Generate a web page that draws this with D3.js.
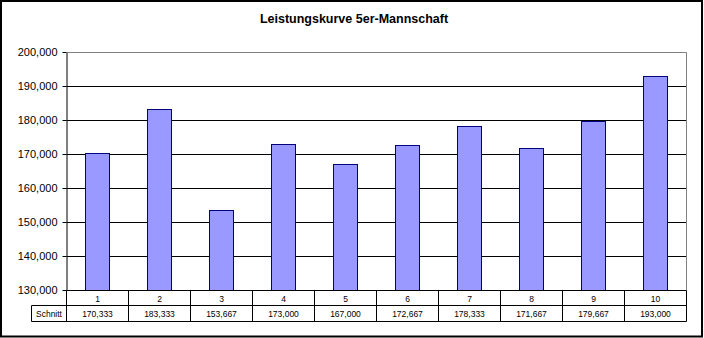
<!DOCTYPE html>
<html><head><meta charset="utf-8">
<script src="https://cdn.jsdelivr.net/npm/d3@7"></script>
<style>body{margin:0;background:#fff}svg{display:block}</style>
</head><body>
<svg id="c" width="704" height="338"></svg>
<script>
const title = "Leistungskurve 5er-Mannschaft";
const categories = ["1","2","3","4","5","6","7","8","9","10"];
const seriesName = "Schnitt";
const values = [170333,183333,153667,173000,167000,172667,178333,171667,179667,193000];
const tableLabels = ["170,333","183,333","153,667","173,000","167,000","172,667","178,333","171,667","179,667","193,000"];
const yTicks = [130000,140000,150000,160000,170000,180000,190000,200000];

const svg = d3.select("#c");
const L = 66.5, R = 686.5, T = 52.5, B = 290.5;
const row1 = 305.5, row2 = 321.5, labelLeft = 31.5;
const font = "Arial, 'Liberation Sans', sans-serif";

svg.append("rect").attr("x",1).attr("y",1).attr("width",701).attr("height",335.5)
  .attr("fill","#fff").attr("stroke","#000").attr("stroke-width",2);

svg.append("text").attr("x",354).attr("y",23).attr("text-anchor","middle")
  .attr("font-family",font).attr("font-weight","bold").attr("font-size","12.5px")
  .text(title);

const x = d3.scaleBand().domain(categories).range([L,R]).padding(0);
const y = d3.scaleLinear().domain([130000,200000]).range([B,T]);
const fmt = v => d3.format(",")(v);
const py = v => Math.floor(y(v)) + 0.5;

// gridlines
svg.append("g").selectAll("line").data(yTicks.filter(t=>t>130000)).join("line")
  .attr("x1",L).attr("x2",R).attr("y1",d=>py(d)).attr("y2",d=>py(d))
  .attr("stroke",d=>d===200000?"#808080":"#000").attr("stroke-width",1);

// right border of plot area
svg.append("line").attr("x1",R).attr("x2",R).attr("y1",T).attr("y2",B).attr("stroke","#808080");

// bars
const bw = 24;
svg.append("g").selectAll("rect").data(values).join("rect")
  .attr("x",(d,i)=>Math.round(x(categories[i]) + x.bandwidth()/2 - bw/2) - 0.5)
  .attr("width",bw)
  .attr("y",d=>py(d))
  .attr("height",d=>B - py(d))
  .attr("fill","#9999FF").attr("stroke","#000080").attr("stroke-width",1);

// y axis
const yAxis = d3.axisLeft(y).tickValues(yTicks).tickSize(4).tickSizeOuter(0)
  .tickFormat(d=>fmt(d));
const ga = svg.append("g").attr("transform",`translate(${L},0)`).call(yAxis);
ga.select(".domain").attr("stroke","#000");
ga.selectAll(".tick line").attr("stroke","#000");
ga.selectAll(".tick text").attr("font-family",font).attr("font-size","11px").attr("fill","#000").attr("x",-9);
ga.selectAll(".tick").attr("transform",d=>`translate(0,${py(d)})`);

// x axis / data table
svg.append("line").attr("x1",L).attr("x2",R).attr("y1",B).attr("y2",B).attr("stroke","#000");
svg.append("line").attr("x1",labelLeft).attr("x2",R).attr("y1",row1).attr("y2",row1).attr("stroke","#000");
svg.append("line").attr("x1",labelLeft).attr("x2",R).attr("y1",row2).attr("y2",row2).attr("stroke","#000");
svg.append("line").attr("x1",labelLeft).attr("x2",labelLeft).attr("y1",row1).attr("y2",row2).attr("stroke","#000");
const bounds = categories.map(c=>x(c)).concat([R]);
svg.append("g").selectAll("line").data(bounds).join("line")
  .attr("x1",d=>Math.round(d-0.5)+0.5).attr("x2",d=>Math.round(d-0.5)+0.5)
  .attr("y1",B).attr("y2",row2).attr("stroke","#000");

svg.append("g").selectAll("text").data(categories).join("text")
  .attr("x",d=>x(d)+x.bandwidth()/2).attr("y",301.5).attr("text-anchor","middle")
  .attr("font-family",font).attr("font-size","8.5px").text(d=>d);
svg.append("g").selectAll("text").data(tableLabels).join("text")
  .attr("x",(d,i)=>x(categories[i])+x.bandwidth()/2).attr("y",317).attr("text-anchor","middle")
  .attr("font-family",font).attr("font-size","8.5px").text(d=>d);
svg.append("text").attr("x",(labelLeft+L)/2).attr("y",317).attr("text-anchor","middle")
  .attr("font-family",font).attr("font-size","8.5px").text(seriesName);
</script>
</body></html>
